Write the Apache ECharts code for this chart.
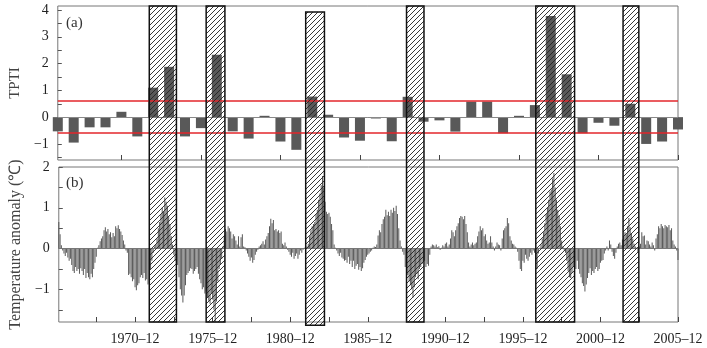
<!DOCTYPE html>
<html>
<head>
<meta charset="utf-8">
<script src="https://cdn.jsdelivr.net/npm/echarts@6/dist/echarts.min.js"></script>
<style>
  html, body { margin: 0; padding: 0; background: #fff; }
  #chart { width: 707px; height: 348px; }
</style>
</head>
<body>
<div id="chart"></div>
<script>
// === DATA ===
// (a) annual TPTI, one bar per year
const years = ['1966','1967','1968','1969','1970','1971','1972','1973','1974','1975',
  '1976','1977','1978','1979','1980','1981','1982','1983','1984','1985',
  '1986','1987','1988','1989','1990','1991','1992','1993','1994','1995',
  '1996','1997','1998','1999','2000','2001','2002','2003','2004','2005'];
const tpti = [-0.53, -0.95, -0.38, -0.38, 0.2, -0.72, 1.1, 1.88, -0.72, -0.41,
  2.33, -0.53, -0.8, 0.05, -0.91, -1.22, 0.77, 0.09, -0.76, -0.88,
  -0.05, -0.9, 0.76, -0.17, -0.12, -0.54, 0.58, 0.58, -0.6, 0.05,
  0.45, 3.78, 1.6, -0.6, -0.21, -0.32, 0.5, -1.0, -0.91, -0.46];
const thresholds = [0.6, -0.6];

// (b) monthly temperature anomaly (°C), Jan 1966 .. Dec 2005, one row per year
const tempAnomaly = [
  0.65, 0.35, 0.08, -0.05, -0.12, -0.18, -0.1, -0.22, -0.3, -0.25, -0.4, -0.55,
  -0.6, -0.45, -0.55, -0.5, -0.62, -0.48, -0.55, -0.65, -0.5, -0.72, -0.6, -0.7,
  -0.75, -0.62, -0.7, -0.5, -0.35, -0.2, 0.02, 0.08, 0.18, 0.25, 0.3, 0.45,
  0.52, 0.42, 0.48, 0.35, 0.4, 0.28, 0.38, 0.3, 0.55, 0.5, 0.57, 0.48,
  0.42, 0.33, 0.2, 0.1, -0.05, -0.1, -0.65, -0.62, -0.7, -0.8, -0.75, -0.95,
  -1.02, -0.9, -0.85, -0.7, -0.65, -0.72, -0.6, -0.78, -0.75, -0.88, -0.85, -0.5,
  -0.3, -0.1, 0.05, 0.1, 0.25, 0.5, 0.65, 0.85, 1.0, 0.9, 1.25, 1.15,
  1.05, 0.8, 0.6, 0.3, 0.1, -0.15, -0.3, -0.55, -0.4, -0.7, -1.0, -1.15,
  -1.32, -1.15, -0.9, -0.65, -0.6, -0.55, -0.48, -0.5, -0.62, -0.55, -0.5, -0.45,
  -0.62, -0.75, -0.85, -1.0, -0.95, -1.1, -1.05, -1.2, -1.28, -1.35, -1.1, -1.25,
  -1.5, -1.8, -1.3, -0.8, -0.5, -0.4, -0.25, 0.05, 0.3, 0.48, 0.42, 0.55,
  0.5, 0.42, 0.25, 0.35, 0.3, 0.2, 0.1, 0.3, 0.05, 0.28, 0.35, 0.05,
  0.03, -0.05, -0.12, -0.2, -0.3, -0.22, -0.35, -0.28, -0.15, -0.08, -0.03, 0.05,
  0.08, 0.12, 0.18, 0.1, 0.22, 0.3, 0.38, 0.55, 0.73, 0.62, 0.7, 0.45,
  0.48, 0.42, 0.45, 0.38, 0.42, 0.12, 0.08, 0.15, 0.05, -0.03, -0.08, -0.15,
  -0.2, -0.1, -0.25, -0.18, -0.12, -0.25, -0.15, -0.05, -0.1, -0.03, 0.02, 0.05,
  0.05, 0.12, 0.3, 0.45, 0.55, 0.6, 0.65, 0.85, 0.95, 1.2, 1.35, 1.55,
  1.78, 1.5, 1.15, 0.9, 0.85, 0.88, 0.78, 0.6, 0.45, 0.1, 0.02, -0.05,
  -0.12, -0.18, -0.1, -0.22, -0.25, -0.3, -0.28, -0.35, -0.2, -0.38, -0.3, -0.45,
  -0.3, -0.5, -0.42, -0.38, -0.52, -0.45, -0.55, -0.48, -0.35, -0.28, -0.2, -0.15,
  -0.12, -0.08, -0.05, 0.02, 0.05, 0.04, 0.1, 0.32, 0.45, 0.4, 0.6, 0.72,
  0.78, 0.95, 0.82, 0.9, 0.8, 0.95, 0.88, 1.0, 0.92, 1.05, 0.85, 0.5,
  0.2, 0.05, -0.08, -0.15, -0.45, -0.75, -0.65, -0.8, -0.9, -1.0, -1.2, -0.95,
  -0.7, -0.62, -0.75, -0.5, -0.45, -0.38, -0.32, -0.3, -0.45, -0.38, -0.42, -0.15,
  0.05, 0.1, 0.08, 0.05, 0.1, 0.03, 0.06, -0.03, 0.02, 0.08, 0.05, 0.12,
  0.15, 0.05, 0.1, 0.25, 0.45, 0.4, 0.3, 0.45, 0.55, 0.62, 0.75, 0.8,
  0.78, 0.72, 0.8, 0.6, 0.4, 0.15, 0.05, 0.1, 0.15, 0.08, 0.12, 0.15,
  0.3, 0.42, 0.55, 0.45, 0.5, 0.3, 0.35, 0.2, 0.12, 0.15, 0.3, 0.15,
  0.05, -0.05, 0.05, 0.15, 0.1, 0.08, -0.05, 0.25, 0.45, 0.5, 0.55, 0.75,
  0.62, 0.3, 0.2, 0.12, 0.1, 0.05, 0.02, -0.08, -0.3, -0.5, -0.55, -0.3,
  -0.35, -0.15, -0.25, -0.3, -0.2, -0.1, -0.15, -0.05, -0.1, -0.3, -0.5, -0.12,
  0.02, 0.1, 0.25, 0.4, 0.62, 0.85, 1.0, 1.2, 1.4, 1.45, 1.72, 1.85,
  1.5, 1.2, 0.95, 0.8, 0.55, 0.2, 0.05, -0.05, -0.1, -0.3, -0.55, -0.7,
  -0.72, -0.6, -0.45, -0.3, -0.5, -0.3, -0.5, -0.62, -0.7, -0.85, -0.92, -1.05,
  -0.88, -0.72, -0.6, -0.48, -0.65, -0.55, -0.6, -0.5, -0.45, -0.55, -0.5, -0.35,
  -0.3, -0.28, -0.12, -0.05, 0.05, -0.05, 0.2, 0.1, -0.08, -0.18, -0.25, -0.1,
  0.05, 0.12, 0.15, 0.08, 0.22, 0.3, 0.4, 0.35, 0.55, 0.75, 0.52, 0.38,
  0.25, 0.12, 0.05, 0.02, -0.1, 0.05, 0.12, 0.4, 0.3, 0.32, 0.1, 0.2,
  0.18, 0.1, 0.05, 0.15, 0.08, -0.05, 0.25, 0.35, 0.55, 0.5, 0.6, 0.55,
  0.5, 0.58, 0.55, 0.52, 0.58, 0.45, 0.5, 0.2, 0.1, 0.05, -0.05, -0.28
];
const monthNames = ['01','02','03','04','05','06','07','08','09','10','11','12'];

// tick labels
const xLabels = ['1970-12','1975-12','1980-12','1985-12','1990-12','1995-12','2000-12','2005-12'];
const xTickMonths = ['1968-06','1970-12','1973-06','1975-12','1978-06','1980-12','1983-06','1985-12',
  '1988-06','1990-12','1993-06','1995-12','1998-06','2000-12','2003-06','2005-12'];
const yearTicks = ['1970','1975','1980','1985','1990','1995','2000','2005'];
const tptiTicks = [-1.5, -1, -0.5, 0, 0.5, 1, 1.5, 2, 2.5, 3, 3.5, 4];
const tptiLabels = [-1, 0, 1, 2, 3, 4];
const tempTicks = [-1.5, -1, -0.5, 0, 0.5, 1, 1.5, 2];
const tempLabels = [-1, 0, 1, 2];

// hatched event windows, in months from Jan 1966 (start, end) and vertical reach
const hatchStart = [70, 114, 191, 269, 369, 436.5];
const hatchEnd = [91, 128.5, 205.5, 282.5, 399, 448.7];
const hatchTop = [4.15, 4.15, 3.93, 4.15, 4.15, 4.15];      // on TPTI axis
const hatchBottom = [-1.8, -1.8, -1.88, -1.8, -1.8, -1.8];  // on temperature axis

// === SETUP ===
const months = [];
years.forEach(y => monthNames.forEach(m => months.push(y + '-' + m)));

const FONT = 'Liberation Serif';
const fmtNum = v => String(v).replace('-', '\u2212');

const chart = echarts.init(document.getElementById('chart'));

const yCommon = {
    type: 'value',
    axisLine: { show: false },
    splitLine: { show: false },
    axisTick: { show: true, inside: true, length: 4, lineStyle: { color: '#555' } },
    axisLabel: { color: '#222', fontFamily: FONT, fontSize: 14, margin: 9, formatter: fmtNum },
    nameLocation: 'middle',
    nameRotate: 90,
    nameTextStyle: { color: '#444', fontFamily: FONT, fontSize: 15 }
};

const option = {
    animation: false,
    backgroundColor: '#fff',
    grid: [
        { left: 56, top: 6, width: 622, height: 154, show: true, borderColor: '#777', borderWidth: 1 },
        { left: 56, top: 167, width: 622, height: 155, show: true, borderColor: '#777', borderWidth: 1 }
    ],
    xAxis: [
        {
            type: 'category', gridIndex: 0, data: years, boundaryGap: false,
            axisLine: { show: false, onZero: false },
            axisTick: { show: true, inside: true, length: 5, lineStyle: { color: '#444' },
                interval: (i, v) => yearTicks.indexOf(v) >= 0 },
            axisLabel: { show: false },
            splitLine: { show: false }
        },
        {
            type: 'category', gridIndex: 1, data: months, boundaryGap: false,
            axisLine: { show: false, onZero: false },
            axisTick: { show: true, inside: true, length: 5, lineStyle: { color: '#444' },
                interval: (i, v) => xTickMonths.indexOf(v) >= 0 },
            axisLabel: { show: true, color: '#222', fontFamily: FONT, fontSize: 14, margin: 10,
                interval: (i, v) => xLabels.indexOf(v) >= 0,
                formatter: v => v.replace('-', '\u2013') },
            splitLine: { show: false }
        }
    ],
    yAxis: [
        Object.assign({}, yCommon, {
            gridIndex: 0, min: -1.6, max: 4.15, name: 'TPTI', nameGap: 27,
            axisTick: Object.assign({}, yCommon.axisTick, { customValues: tptiTicks }),
            axisLabel: Object.assign({}, yCommon.axisLabel, { customValues: tptiLabels })
        }),
        Object.assign({}, yCommon, {
            gridIndex: 1, min: -1.8, max: 2, name: 'Temperature anomaly (\u2103)', nameGap: 25,
            nameTextStyle: { color: '#444', fontFamily: FONT, fontSize: 16 },
            axisTick: Object.assign({}, yCommon.axisTick, { customValues: tempTicks }),
            axisLabel: Object.assign({}, yCommon.axisLabel, { customValues: tempLabels })
        })
    ],
    series: [
        {
            type: 'bar', xAxisIndex: 0, yAxisIndex: 0, data: tpti,
            barWidth: 10, itemStyle: { color: '#595959' }, clip: true,
            markLine: {
                silent: true, symbol: 'none', label: { show: false },
                data: [{ yAxis: 0, lineStyle: { color: '#888', width: 1, type: 'solid' } }]
                    .concat(thresholds.map(t => ({ yAxis: t, lineStyle: { color: '#e3262b', width: 1.5, type: 'solid' } })))
            }
        },
        {
            type: 'bar', xAxisIndex: 1, yAxisIndex: 1, data: tempAnomaly,
            barWidth: 1, itemStyle: { color: '#5a5a5a' }, clip: true,
            markLine: {
                silent: true, symbol: 'none', label: { show: false },
                data: [{ yAxis: 0, lineStyle: { color: '#777', width: 1, type: 'solid' } }]
            }
        }
    ],
    graphic: [
        { type: 'text', left: 66, top: 16, style: { text: '(a)', fontFamily: FONT, fontSize: 15, fill: '#333' } },
        { type: 'text', left: 66, top: 176, style: { text: '(b)', fontFamily: FONT, fontSize: 15, fill: '#333' } }
    ]
};

chart.setOption(option);

// === HATCHED WINDOWS ===
function hatchPattern() {
    const c = document.createElement('canvas');
    c.width = 5; c.height = 5;
    const ctx = c.getContext('2d');
    ctx.strokeStyle = '#222';
    ctx.lineWidth = 0.9;
    ctx.beginPath();
    ctx.moveTo(0, 5); ctx.lineTo(5, 0);
    ctx.moveTo(-1, 1); ctx.lineTo(1, -1);
    ctx.moveTo(4, 6); ctx.lineTo(6, 4);
    ctx.stroke();
    return { image: c, repeat: 'repeat' };
}

const px0 = chart.convertToPixel({ xAxisIndex: 1 }, months[0]);
const px1 = chart.convertToPixel({ xAxisIndex: 1 }, months[months.length - 1]);
const monthToPx = m => px0 + (px1 - px0) * m / (months.length - 1);
const pattern = hatchPattern();

const hatchRects = hatchStart.map((s, i) => {
    const xa = monthToPx(s), xb = monthToPx(hatchEnd[i]);
    const ya = chart.convertToPixel({ yAxisIndex: 0 }, hatchTop[i]);
    const yb = chart.convertToPixel({ yAxisIndex: 1 }, hatchBottom[i]);
    return {
        type: 'rect', z: 100, silent: true,
        shape: { x: xa, y: ya, width: xb - xa, height: yb - ya },
        style: { fill: pattern, stroke: '#111', lineWidth: 1.5 }
    };
});

chart.setOption({ graphic: option.graphic.concat(hatchRects) });
</script>
</body>
</html>
